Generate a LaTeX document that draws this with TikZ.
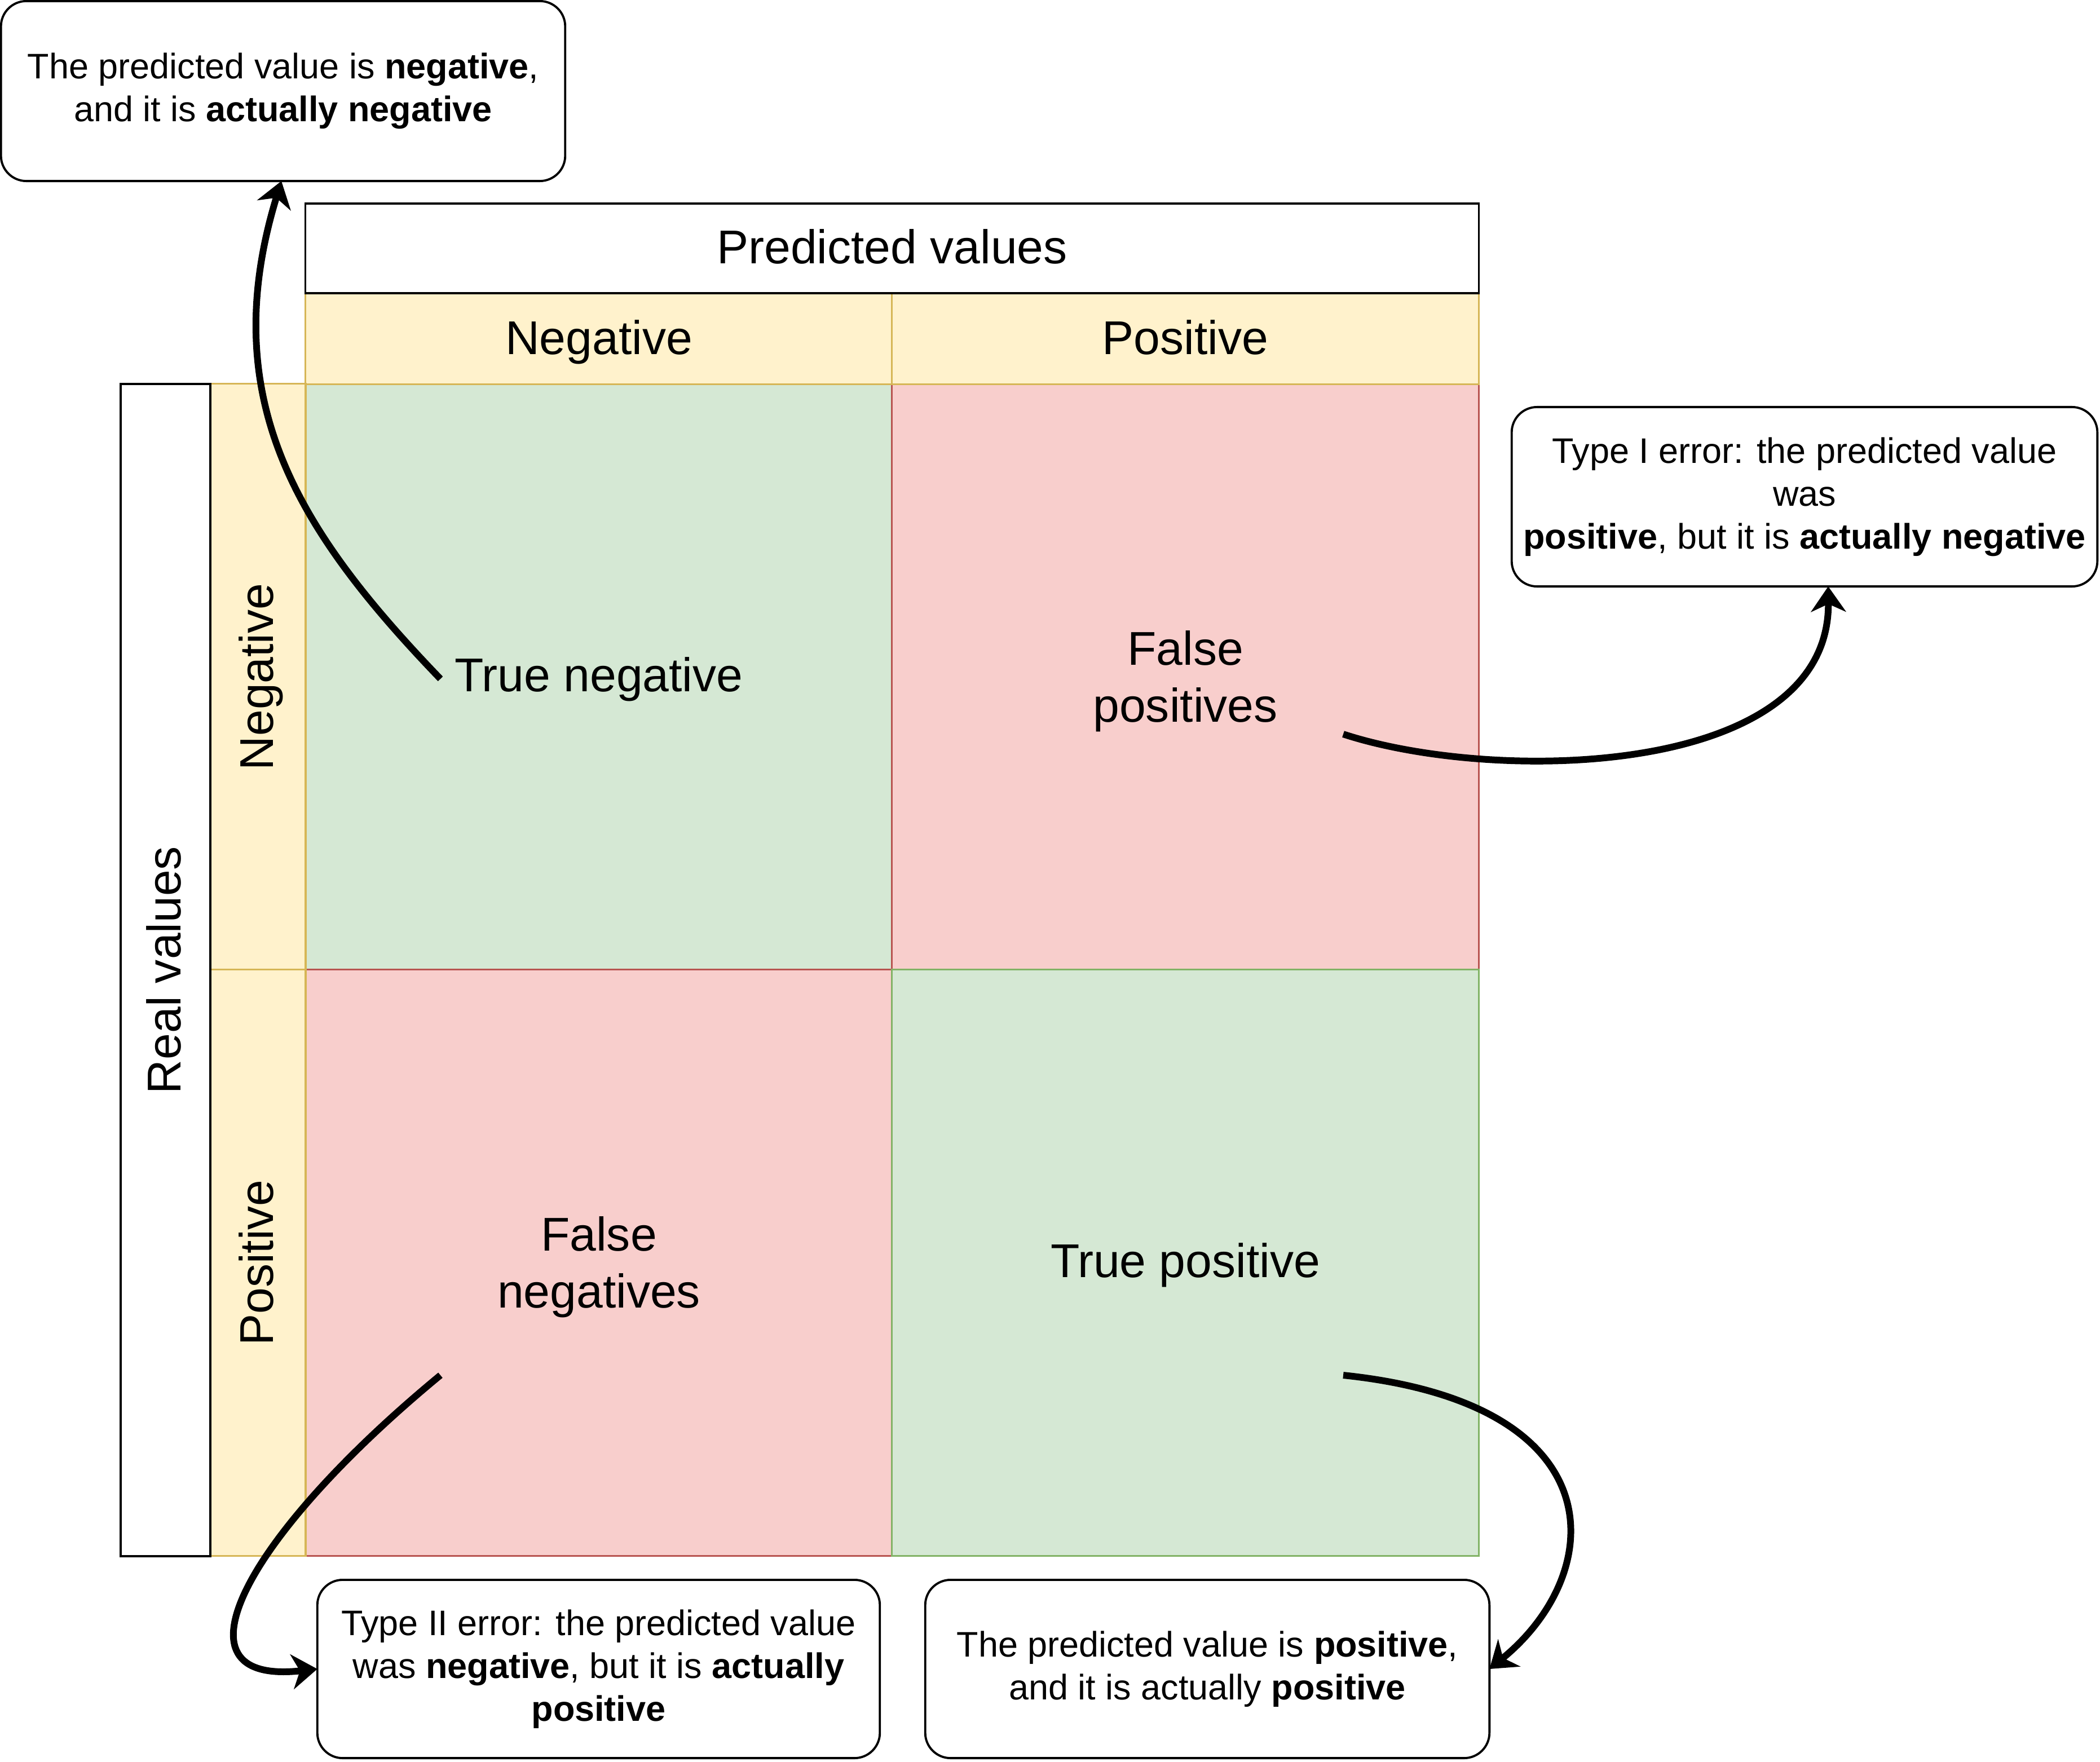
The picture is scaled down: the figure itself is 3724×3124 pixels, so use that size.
\documentclass[tikz,border=0pt]{standalone}
\usepackage{fontspec}
\setmainfont{Liberation Sans}
\usetikzlibrary{arrows.meta,calc}
\definecolor{ylwfill}{HTML}{FFF2CC}
\definecolor{ylwline}{HTML}{D6B656}
\definecolor{grnfill}{HTML}{D5E8D4}
\definecolor{grnline}{HTML}{82B366}
\definecolor{redfill}{HTML}{F8CECC}
\definecolor{redline}{HTML}{B85450}
\newcommand\BigTxt{\fontsize{23.9}{28.7}\selectfont}
\newcommand\SmallTxt{\fontsize{17.9}{21.6}\selectfont}
\begin{document}
\begin{tikzpicture}[x=0.01cm,y=-0.01cm,
  basebox/.style={draw, line width=1pt, inner sep=0pt, outer sep=0pt, align=center, font=\BigTxt},
  hdrbox/.style={basebox, draw=black, fill=white},
  ylwbox/.style={basebox, draw=ylwline, fill=ylwfill},
  grnbox/.style={basebox, draw=grnline, fill=grnfill, minimum width=10.40cm, minimum height=10.39cm},
  redbox/.style={basebox, draw=redline, fill=redfill, minimum width=10.40cm, minimum height=10.39cm},
  callout/.style={draw=black, line width=1.1pt, fill=white, rounded corners=0.45cm, inner sep=0pt, outer sep=0pt, align=center, font=\SmallTxt},
  lbltxt/.style={text height=17.5pt, text depth=2pt},
  rotlabel/.style={rotate=90, font=\BigTxt, inner sep=0pt, lbltxt},
  celltxt/.style={font=\BigTxt, align=center, inner sep=0pt},
  arr/.style={line width=3.4pt, -{Stealth[length=0.45cm,width=0.62cm,inset=0.14cm]}}
]
\fill[white] (0,0) rectangle (3724,3124);
\useasboundingbox (0,0) rectangle (3724,3124);

% matrix cells
\node[grnbox] (tn) at (1062,1200.5) {};
\node[redbox] (fp) at (2102,1200.5) {};
\node[redbox] (fn) at (1062,2239.5) {};
\node[grnbox] (tp) at (2102,2239.5) {};
\node[celltxt] (tntxt) at ([yshift=-0.06cm]tn.center) {\strut True negative};
\node[celltxt] (fptxt) at ([yshift=-0.08cm]fp.center) {False\\positives};
\node[celltxt] (fntxt) at ([yshift=-0.08cm]fn.center) {False\\negatives};
\node[celltxt] (tptxt) at ([yshift=-0.06cm]tp.center) {\strut True positive};

% column headers
\node[ylwbox, lbltxt, minimum width=10.40cm, minimum height=1.61cm] (colneg) at (1062,601) {Negative};
\node[ylwbox, lbltxt, minimum width=10.40cm, minimum height=1.61cm] (colpos) at (2102,601) {Positive};
\node[hdrbox, lbltxt, minimum width=20.80cm, minimum height=1.59cm] (pred) at (1582,440.5) {Predicted values};

% row headers
\node[ylwbox, minimum width=1.69cm, minimum height=10.39cm] (rowneg) at (457.5,1200.5) {};
\node[ylwbox, minimum width=1.69cm, minimum height=10.39cm] (rowpos) at (457.5,2239.5) {};
\node[rotlabel] (rownegtxt) at (rowneg.center) {Negative};
\node[rotlabel] (rowpostxt) at (rowpos.center) {Positive};
\node[hdrbox, minimum width=1.59cm, minimum height=20.78cm] (real) at (293.5,1720.5) {};
\node[rotlabel] (realtxt) at (real.center) {Real values};

% callouts
\node[callout, minimum width=10.00cm, minimum height=3.19cm] (tnbox) at (502,161.5)
  {The predicted value is \textbf{negative},\\and it is \textbf{actually negative}};
\node[callout, minimum width=10.38cm, minimum height=3.18cm] (t1box) at (3200,881)
  {Type I error: the predicted value\\was\\\textbf{positive}, but it is \textbf{actually negative}};
\node[callout, minimum width=9.97cm, minimum height=3.16cm] (t2box) at (1061.5,2960)
  {Type II error: the predicted value\\was \textbf{negative}, but it is \textbf{actually}\\\textbf{positive}};
\node[callout, minimum width=10.00cm, minimum height=3.16cm] (tpbox) at (2141,2960)
  {The predicted value is \textbf{positive},\\and it is actually \textbf{positive}};

% arrow start points
\coordinate (tnstart) at (781,1204);
\coordinate (fpstart) at (2382,1302);
\coordinate (fnstart) at (781,2439);
\coordinate (tpstart) at (2382,2439);

\draw[arr] (tnstart) .. controls (531,944) and (380,710) .. ([xshift=-0.03cm]tnbox.south);
\draw[arr] (fpstart) .. controls (2650,1390) and (3245,1380) .. ([xshift=0.42cm]t1box.south);
\draw[arr] (fnstart) .. controls (440,2720) and (290,2990) .. (t2box.west);
\draw[arr] (tpstart) .. controls (2870,2490) and (2850,2790) .. (tpbox.east);
\end{tikzpicture}
\end{document}
